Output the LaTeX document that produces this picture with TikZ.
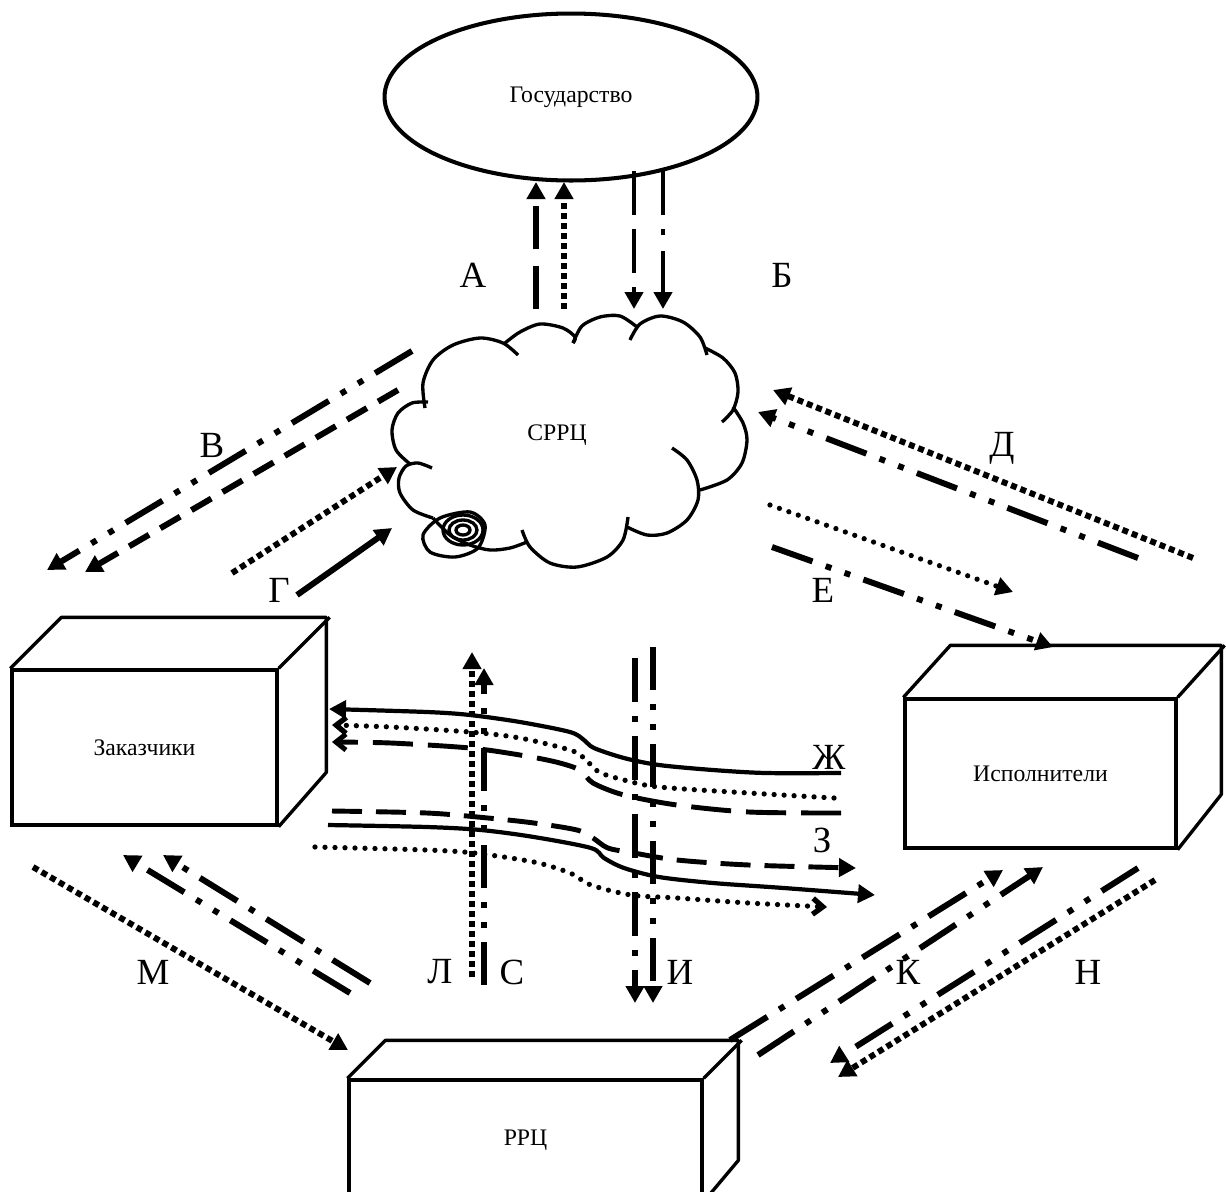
\documentclass[tikz,border=0pt]{standalone}
\usepackage{fontspec}
\setmainfont{Liberation Serif}
\usetikzlibrary{arrows.meta,shapes.geometric}

\begin{document}
\begin{tikzpicture}[x=0.02cm, y=-0.02cm,
  thinln/.style={line width=2.4pt},
  thickln/.style={line width=3.4pt},
  cloudln/.style={line width=1.9pt},
  dotsq/.style={dash pattern=on 0.12cm off 0.08cm},
  rdots/.style={line width=3pt, line cap=round, dash pattern=on 0pt off 0.2cm},
  ldash/.style={dash pattern=on 0.86cm off 0.34cm},
  mdash/.style={dash pattern=on 0.46cm off 0.26cm},
  dashdotl/.style={dash pattern=on 0.88cm off 0.28cm on 0.12cm off 0.28cm},
  dashdotdotl/.style={dash pattern=on 0.86cm off 0.28cm on 0.12cm off 0.28cm on 0.12cm off 0.28cm},
  headtri/.style={-{Triangle[length=0.34cm,width=0.36cm]}},
  headbarb/.style={-{Straight Barb[length=0.2cm,width=0.32cm]}},
  boxfront/.style={draw, line width=1.9pt, inner sep=0pt},
  lbl/.style={font=\fontsize{21}{24}\selectfont},
  txt/.style={font=\fontsize{13.5}{16}\selectfont}]
\useasboundingbox (0,0) rectangle (1226,1191);
\clip (0,0) rectangle (1226,1191);

% State
\node[ellipse, draw, line width=2.3pt, minimum width=7.46cm, minimum height=3.34cm, txt] (gos) at (571,97) {Государство};

% Cloud
\draw[cloudln] plot[smooth] coordinates {(425,408) (423,383) (433,360) (453,345) (480,338) (503,343) (518,355)};
\draw[cloudln] plot[smooth] coordinates {(505,343) (520,332) (540,324) (563,328) (575,337) (573,343)};
\draw[cloudln] plot[smooth] coordinates {(573,343) (582,326) (600,317) (620,316) (637,327)};
\draw[cloudln] plot[smooth] coordinates {(630,340) (640,324) (660,316) (683,322) (700,337) (707,355)};
\draw[cloudln] plot[smooth] coordinates {(705,348) (723,358) (735,373) (738,392) (733,410) (722,422)};
\draw[cloudln] plot[smooth] coordinates {(733,407) (743,423) (747,440) (742,463) (727,480) (700,490)};
\draw[cloudln] plot[smooth] coordinates {(672,448) (687,460) (697,480) (698,500) (687,520) (667,533) (647,535) (627,527)};
\draw[cloudln] plot[smooth] coordinates {(628,517) (623,540) (607,557) (577,567) (550,563) (530,547) (522,530)};
\draw[cloudln] plot[smooth] coordinates {(527,542) (510,548) (490,550) (470,545) (450,535) (433,518)};
\draw[cloudln] plot[smooth] coordinates {(433,518) (413,510) (400,493) (399,478) (406,466) (418,463) (432,468)};
\draw[cloudln] plot[smooth] coordinates {(410,464) (396,450) (392,430) (398,413) (412,403) (428,402)};
\draw[cloudln] plot[smooth cycle] coordinates {(423,535) (440,518) (470,512) (485,525) (478,548) (455,557) (430,552)};
\draw[cloudln] (463,530) ellipse [x radius=20, y radius=15];
\draw[cloudln] (463,530) ellipse [x radius=14, y radius=10];
\draw[cloudln] (463,530) ellipse [x radius=7, y radius=5];
\node[txt] (srrc) at (557,435) {СРРЦ};

% Boxes
\node[boxfront, txt, minimum width=5.3cm, minimum height=3.1cm] (zak) at (144.5,747.5) {Заказчики};
\draw[line width=1.9pt, line join=round] (zak.north west) -- ++(51,-51) -- ++(265,0) -- ++(0,155) -- (zak.south east);
\draw[line width=1.9pt] (zak.north east) -- ++(51,-51);

\node[boxfront, txt, minimum width=5.42cm, minimum height=2.98cm] (isp) at (1040.5,773.5) {Исполнители};
\draw[line width=1.9pt, line join=round] (isp.north west) -- ++(47,-52) -- ++(271,0) -- ++(0,149) -- (isp.south east);
\draw[line width=1.9pt] (isp.north east) -- ++(47,-52);

\node[boxfront, txt, minimum width=7.06cm, minimum height=2.4cm] (rrc) at (525.5,1140) {РРЦ};
\draw[line width=1.9pt, line join=round] (rrc.north west) -- ++(38,-38) -- ++(353,0) -- ++(0,120) -- (rrc.south east);
\draw[line width=1.9pt] (rrc.north east) -- ++(38,-38);

% Arrow ends
\coordinate (a1s) at (536,309); \coordinate (a1e) at (536,182);
\coordinate (a2s) at (564,309); \coordinate (a2e) at (564,182);
\coordinate (b1s) at (634,171); \coordinate (b1e) at (634,309);
\coordinate (b2s) at (663,171); \coordinate (b2e) at (663,309);
\coordinate (v1s) at (412,351); \coordinate (v1e) at (47,570);
\coordinate (v2s) at (398,390); \coordinate (v2e) at (85,572);
\coordinate (g1s) at (232,573); \coordinate (g1e) at (397,467);
\coordinate (g2s) at (297,595); \coordinate (g2e) at (392,528);
\coordinate (d1s) at (1193,558); \coordinate (d1e) at (773,390);
\coordinate (d2s) at (1138,558); \coordinate (d2e) at (758,412);
\coordinate (e1s) at (770,505); \coordinate (e1e) at (1013,592);
\coordinate (e2s) at (772,547); \coordinate (e2e) at (1053,647);
\coordinate (m1s) at (33,867); \coordinate (m1e) at (348,1050);
\coordinate (m2s) at (350,993); \coordinate (m2e) at (123,855);
\coordinate (m3s) at (370,983); \coordinate (m3e) at (163,855);
\coordinate (k1s) at (730,1040); \coordinate (k1e) at (1003,870);
\coordinate (k2s) at (758,1055); \coordinate (k2e) at (1043,867);
\coordinate (n1s) at (1138,868); \coordinate (n1e) at (830,1063);
\coordinate (n2s) at (1155,880); \coordinate (n2e) at (838,1077);
\coordinate (l1s) at (472,977); \coordinate (l1e) at (472,652);
\coordinate (c1s) at (484,985); \coordinate (c1e) at (484,668);
\coordinate (i1s) at (635,658); \coordinate (i1e) at (635,1003);
\coordinate (i2s) at (653,647); \coordinate (i2e) at (653,1003);

% State <-> SRRC
\draw[thickln, ldash, headtri] (a1s) -- (a1e);
\draw[thickln, dotsq, headtri] (a2s) -- (a2e);
\draw[thinln, dash pattern=on 0.88cm off 0.28cm, headtri] (b1s) -- (b1e);
\draw[thinln, dash pattern=on 0.88cm off 0.28cm on 0.12cm off 0.32cm, headtri] (b2s) -- (b2e);

% SRRC <-> customers
\draw[thickln, dashdotdotl, headtri] (v1s) -- (v1e);
\draw[thickln, mdash, headtri] (v2s) -- (v2e);
\draw[thickln, dotsq, headtri] (g1s) -- (g1e);
\draw[thickln, headtri] (g2s) -- (g2e);

% SRRC <-> contractors
\draw[thickln, dotsq, headtri] (d1s) -- (d1e);
\draw[thickln, dashdotdotl, headtri] (d2s) -- (d2e);
\draw[rdots, headtri] (e1s) -- (e1e);
\draw[thickln, dashdotdotl, headtri] (e2s) -- (e2e);

% customers <-> RRC
\draw[thickln, dotsq, headtri] (m1s) -- (m1e);
\draw[thickln, dashdotdotl, headtri] (m2s) -- (m2e);
\draw[thickln, dashdotl, headtri] (m3s) -- (m3e);

% RRC <-> contractors
\draw[thickln, dashdotl, headtri] (k1s) -- (k1e);
\draw[thickln, dashdotdotl, headtri] (k2s) -- (k2e);
\draw[thickln, dashdotdotl, headtri] (n1s) -- (n1e);
\draw[thickln, dotsq, headtri] (n2s) -- (n2e);

% customers <-> contractors
\draw[line width=2.4pt, headtri] plot[smooth] coordinates {(841,773) (766,773) (713,770) (659,765) (624,758) (594,748) (584,740) (570,732) (520,722) (470,715) (427,712) (329,709)};
\draw[rdots, headbarb] plot[smooth] coordinates {(834,798) (749,793) (659,787) (624,780) (599,772) (584,758) (570,750) (520,738) (470,732) (391,727) (332,725)};
\draw[line width=2.8pt, dash pattern=on 0.8cm off 0.3cm, headbarb] plot[smooth] coordinates {(841,813) (749,812) (677,805) (624,795) (593,783) (580,770) (556,762) (520,755) (470,748) (391,743) (332,742)};
\draw[line width=2.8pt, dash pattern=on 0.6cm off 0.28cm, headtri] plot[smooth] coordinates {(332,811) (427,813) (488,818) (534,823) (577,830) (593,838) (608,848) (634,853) (677,860) (749,865) (856,868)};
\draw[line width=2.4pt, headtri] plot[smooth] coordinates {(328,825) (427,827) (481,830) (534,837) (591,848) (604,858) (624,868) (659,877) (713,883) (784,888) (875,895)};
\draw[rdots, headbarb] plot[smooth] coordinates {(315,847) (427,850) (474,853) (534,862) (570,873) (591,885) (631,895) (677,898) (749,903) (827,907)};

% verticals
\draw[thickln, dotsq, headtri] (l1s) -- (l1e);
\draw[thickln, dashdotdotl, headtri] (c1s) -- (c1e);
\draw[thickln, dashdotl, headtri] (i1s) -- (i1e);
\draw[thickln, dashdotdotl, headtri] (i2s) -- (i2e);

% Labels
\node[lbl] (lA) at (473,275) {А};
\node[lbl] (lB) at (782,275) {Б};
\node[lbl] (lV) at (212,445) {В};
\node[lbl] (lG) at (279,590) {Г};
\node[lbl] (lD) at (1002,448) {Д};
\node[lbl] (lE) at (823,590) {Е};
\node[lbl] (lZh) at (829,757) {Ж};
\node[lbl] (lZ) at (822,840) {З};
\node[lbl] (lL) at (440,972) {Л};
\node[lbl] (lS) at (512,972) {С};
\node[lbl] (lI) at (680,972) {И};
\node[lbl] (lM) at (153,972) {М};
\node[lbl] (lK) at (908,972) {К};
\node[lbl] (lN) at (1088,972) {Н};
\end{tikzpicture}
\end{document}
